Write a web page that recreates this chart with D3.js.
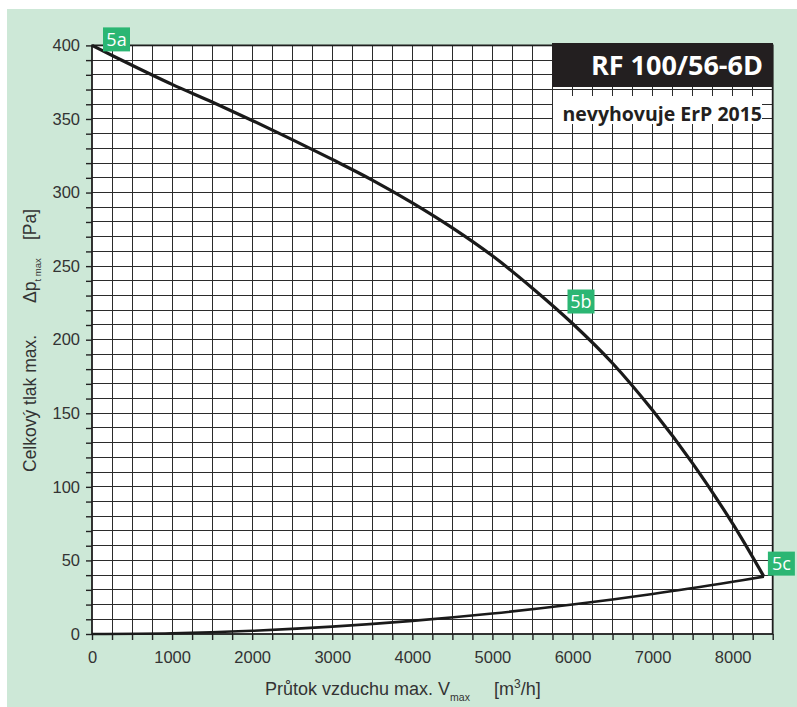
<!DOCTYPE html>
<html>
<head>
<meta charset="utf-8">
<script src="https://cdn.jsdelivr.net/npm/d3@7"></script>
<style>
  html, body { margin: 0; padding: 0; background: #ffffff; }
  svg { display: block; }
</style>
</head>
<body>
<svg id="chart" width="797" height="707"></svg>
<script>
// Axis ticks
const flowTicks = [0, 1000, 2000, 3000, 4000, 5000, 6000, 7000, 8000];
const pressureTicks = [0, 50, 100, 150, 200, 250, 300, 350, 400];

// Fan characteristic (flow m3/h, total pressure Pa)
const fanFlow = [0, 500, 1000, 1500, 2000, 2500, 3000, 3500, 4000, 4500, 5000, 5500, 6000, 6500, 7000, 7500, 8000, 8390];
const fanPressure = [400, 386.5, 373.5, 361.5, 349, 336, 322.5, 308.5, 293, 276, 257, 235, 211, 184, 152, 116, 75, 39];

// System resistance curve
const systemFlow = [0, 1000, 2000, 3000, 4000, 5000, 6000, 7000, 8000, 8390];
const systemPressure = [0, 0.5, 2.2, 5, 8.9, 13.9, 20, 27.2, 35.5, 39];

// Operating point markers
const pointLabels = ["5a", "5b", "5c"];
const pointFlow = [0, 6000, 8390];
const pointPressure = [400, 211, 39];

const title = "RF 100/56-6D";
const subtitle = "nevyhovuje ErP 2015";

const svg = d3.select("#chart");
const W = 797, H = 707;

const x = d3.scaleLinear().domain([0, 8500]).range([92, 772.7]);
const y = d3.scaleLinear().domain([0, 400]).range([634, 45.4]);

const green = "#cde8d7";
const ink = "#333333";
const labelFont = "'Liberation Sans', Arial, sans-serif";

// page background
svg.append("rect").attr("x", 7).attr("y", 9).attr("width", W - 7).attr("height", H - 9).attr("fill", green);

// plot area
svg.append("rect")
  .attr("x", x(0)).attr("y", y(400))
  .attr("width", x(8500) - x(0)).attr("height", y(0) - y(400))
  .attr("fill", "#ffffff");

// grid: 250 m3/h and 10 Pa steps
const gx = d3.range(250, 8500, 250);
const gy = d3.range(10, 400, 10);
const grid = svg.append("g").attr("stroke", "#2b2b2b").attr("stroke-width", 1).attr("shape-rendering", "crispEdges");
grid.selectAll("line.v").data(gx).join("line").attr("class", "v")
  .attr("x1", d => x(d)).attr("x2", d => x(d)).attr("y1", y(0)).attr("y2", y(400));
grid.selectAll("line.h").data(gy).join("line").attr("class", "h")
  .attr("y1", d => y(d)).attr("y2", d => y(d)).attr("x1", x(0)).attr("x2", x(8500));

// axes
const xAxis = d3.axisBottom(x).tickValues(d3.range(0, 8501, 250)).tickSize(6)
  .tickFormat(d => flowTicks.includes(d) ? d : "");
const yAxis = d3.axisLeft(y).tickValues(d3.range(0, 401, 10)).tickSize(6)
  .tickFormat(d => pressureTicks.includes(d) ? d : "");

const gX = svg.append("g").attr("transform", `translate(0,${y(0)})`).call(xAxis);
const gY = svg.append("g").attr("transform", `translate(${x(0)},0)`).call(yAxis);
[gX, gY].forEach(g => {
  g.select(".domain").remove();
  g.selectAll(".tick line").attr("stroke", "#222").attr("stroke-width", 1.4);
  g.selectAll(".tick text").attr("fill", ink).attr("font-family", labelFont).attr("font-size", 16.5);
});
gX.selectAll(".tick text").attr("y", 17.5).attr("dy", "0.71em");
gY.selectAll(".tick text").attr("x", -12);

// plot frame
svg.append("rect")
  .attr("x", x(0)).attr("y", y(400))
  .attr("width", x(8500) - x(0)).attr("height", y(0) - y(400))
  .attr("fill", "none").attr("stroke", "#1e1e1e").attr("stroke-width", 1.8);

// curves
const line = d3.line().x(d => x(d[0])).y(d => y(d[1])).curve(d3.curveCatmullRom.alpha(0.5));
svg.append("path").datum(fanFlow.map((f, i) => [f, fanPressure[i]]))
  .attr("d", line).attr("fill", "none").attr("stroke", "#1a1a1a").attr("stroke-width", 3.2)
  .attr("stroke-linejoin", "round");
svg.append("path").datum(systemFlow.map((f, i) => [f, systemPressure[i]]))
  .attr("d", line).attr("fill", "none").attr("stroke", "#1a1a1a").attr("stroke-width", 2.6)
  .attr("stroke-linejoin", "round");

// point markers
const markerOffset = [[11, -18], [-5, -34], [4, -25]];
const mk = svg.append("g");
pointLabels.forEach((lab, i) => {
  const px = x(pointFlow[i]) + markerOffset[i][0];
  const py = y(pointPressure[i]) + markerOffset[i][1];
  mk.append("rect").attr("x", px).attr("y", py).attr("width", 27).attr("height", 24).attr("fill", "#2bb673");
  mk.append("text").attr("x", px + 13.5).attr("y", py + 18.5).attr("text-anchor", "middle")
    .attr("fill", "#ffffff").attr("font-family", "'Open Sans', sans-serif").attr("font-size", 18)
    .text(lab);
});

// title boxes
svg.append("rect").attr("x", 552).attr("y", 43).attr("width", 221).attr("height", 44).attr("fill", "#231f20");
svg.append("text").attr("x", 763).attr("y", 75).attr("text-anchor", "end")
  .attr("fill", "#ffffff").attr("font-family", "'Open Sans', sans-serif").attr("font-weight", 700)
  .attr("font-size", 27).text(title);
svg.append("rect").attr("x", 553).attr("y", 96).attr("width", 209).attr("height", 28).attr("fill", "#ffffff");
svg.append("text").attr("x", 762).attr("y", 120.5).attr("text-anchor", "end")
  .attr("fill", "#231f20").attr("font-family", "'Open Sans', sans-serif").attr("font-weight", 700)
  .attr("font-size", 19.5).text(subtitle);

// x axis title
const xt = svg.append("text").attr("y", 695).attr("fill", ink).attr("font-family", labelFont).attr("font-size", 18);
xt.append("tspan").attr("x", 265).text("Průtok vzduchu max. V");
xt.append("tspan").attr("font-size", 10.5).attr("dy", 6).text("max");
const xu = svg.append("text").attr("x", 494).attr("y", 695).attr("fill", ink).attr("font-family", labelFont)
  .attr("font-size", 18);
xu.append("tspan").text("[m");
xu.append("tspan").attr("font-size", 12).attr("dy", -7).text("3");
xu.append("tspan").attr("dy", 7).text("/h]");

// y axis title (rotated)
const yTitle = (yy, build) => {
  const t = svg.append("text").attr("transform", `translate(36,${yy}) rotate(-90)`)
    .attr("fill", ink).attr("font-family", labelFont).attr("font-size", 17.5);
  build(t);
};
yTitle(472, t => t.text("Celkový tlak max."));
yTitle(303, t => {
  t.append("tspan").text("Δp");
  t.append("tspan").attr("font-size", 9.5).attr("dy", 5).text("t max");
});
yTitle(240, t => t.text("[Pa]"));
</script>
</body>
</html>
